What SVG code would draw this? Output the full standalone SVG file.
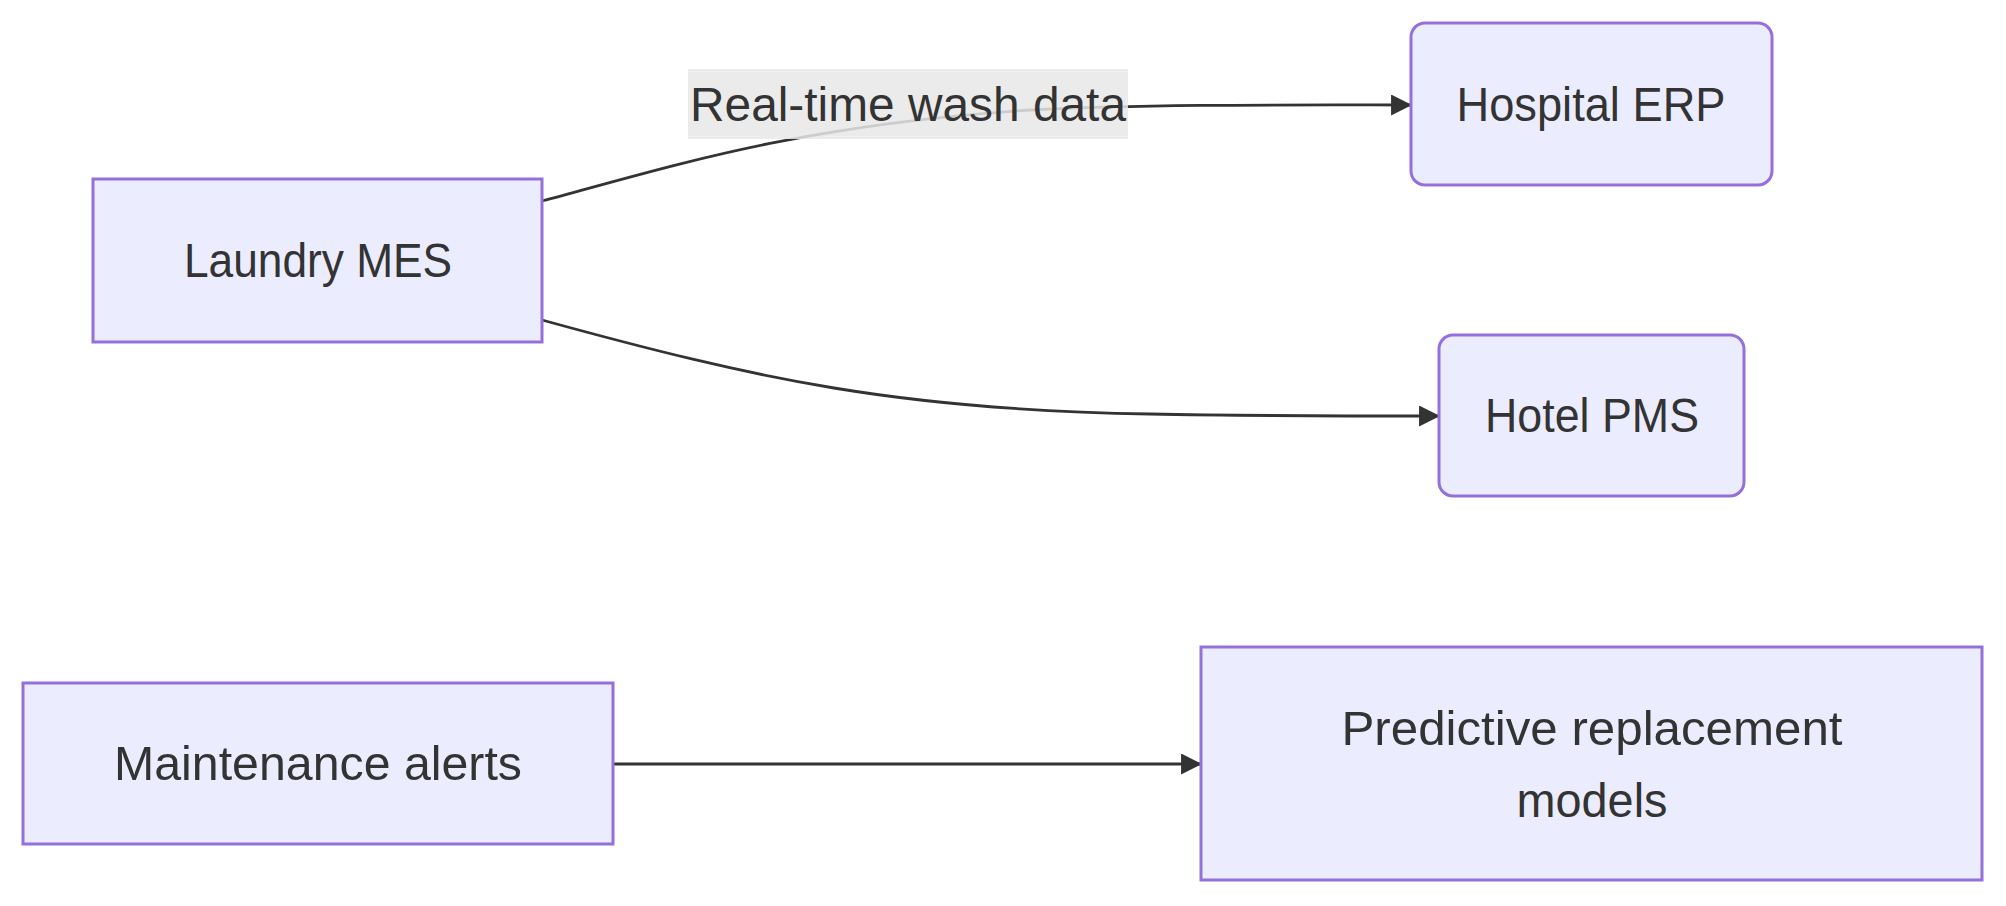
<svg xmlns="http://www.w3.org/2000/svg" width="2006" height="906" viewBox="0 0 2006 906">
<style>
.node rect{fill:#ECECFF;stroke:#9370DB;stroke-width:3}
.t{font-family:"Liberation Sans",Arial,sans-serif;font-size:48px;fill:#333;text-anchor:middle}
.edge{fill:none;stroke:#333;stroke-width:2.8}
.lbl{fill:#e8e8e8;fill-opacity:0.85}
</style>
<defs><marker id="ah" viewBox="0 0 20 20" refX="19" refY="10" markerWidth="21" markerHeight="21" markerUnits="userSpaceOnUse" orient="auto"><path d="M0,0 L20,10 L0,20 z" fill="#333"/></marker></defs>
<g id="edges">
<path class="edge" d="M542,201 C680,164 800,125 1030,110 C1150,104 1300,105 1411,105" marker-end="url(#ah)"/>
<path class="edge" d="M542,320 C760,380 900,410 1150,414 C1250,416 1350,416 1439,416" marker-end="url(#ah)"/>
<path class="edge" d="M613,764 L1201,764" marker-end="url(#ah)"/>
</g>
<g id="edge-label">
<rect class="lbl" x="688" y="69" width="440" height="70"/>
<text class="t" x="908" y="121" textLength="436" lengthAdjust="spacingAndGlyphs">Real-time wash data</text>
</g>
<g id="laundry-mes" class="node">
<rect x="93" y="179" width="449" height="163"/>
<text class="t" x="318" y="277" textLength="268" lengthAdjust="spacingAndGlyphs">Laundry MES</text>
</g>
<g id="hospital-erp" class="node">
<rect x="1411" y="23" width="361" height="162" rx="14" ry="14"/>
<text class="t" x="1591" y="121" textLength="269" lengthAdjust="spacingAndGlyphs">Hospital ERP</text>
</g>
<g id="hotel-pms" class="node">
<rect x="1439" y="335" width="305" height="161" rx="14" ry="14"/>
<text class="t" x="1592" y="432" textLength="214" lengthAdjust="spacingAndGlyphs">Hotel PMS</text>
</g>
<g id="maintenance-alerts" class="node">
<rect x="23" y="683" width="590" height="161"/>
<text class="t" x="318" y="780" textLength="408" lengthAdjust="spacingAndGlyphs">Maintenance alerts</text>
</g>
<g id="predictive-models" class="node">
<rect x="1201" y="647" width="781" height="233"/>
<text class="t" x="1592" y="745" textLength="501" lengthAdjust="spacingAndGlyphs">Predictive replacement</text>
<text class="t" x="1592" y="817" textLength="151" lengthAdjust="spacingAndGlyphs">models</text>
</g>
</svg>
